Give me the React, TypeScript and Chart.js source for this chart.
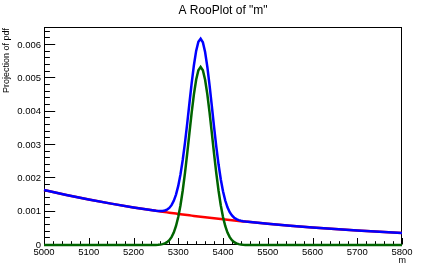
import React, { useEffect, useRef } from "react";
import { Chart, registerables } from "chart.js";

Chart.register(...registerables);

// m values (sampled finer around the peak)
const mValues = [
  5000, 5050, 5100, 5150, 5200, 5250,
  5255, 5260, 5265, 5270, 5275, 5280, 5285, 5290, 5295, 5300,
  5305, 5310, 5315, 5320, 5325, 5330, 5335, 5340, 5345, 5350,
  5355, 5360, 5365, 5370, 5375, 5380, 5385, 5390, 5395, 5400,
  5405, 5410, 5415, 5420, 5425, 5430, 5435, 5440, 5445, 5450,
  5500, 5550, 5600, 5650, 5700, 5750, 5800,
];

// total pdf (blue)
const totalPdf = [
  0.00165, 0.001501, 0.001365, 0.001241, 0.001128, 0.0010294,
  0.0010231, 0.0010202, 0.0010228, 0.0010349, 0.0010618, 0.0011113, 0.0011951, 0.001324, 0.001512, 0.0017731,
  0.0021183, 0.0025506, 0.0030649, 0.0036423, 0.0042528, 0.0048534, 0.0053941, 0.0058238, 0.0060986, 0.0061885,
  0.0060825, 0.0057916, 0.0053457, 0.0047889, 0.0041722, 0.0035455, 0.0029519, 0.0024214, 0.001973, 0.0016116,
  0.0013343, 0.0011301, 0.0009849, 0.0008848, 0.0008191, 0.0007758, 0.0007474, 0.0007285, 0.000715, 0.0007049,
  0.000638, 0.00058, 0.000528, 0.00048, 0.000436, 0.000397, 0.000361,
];

// background component (red)
const bkgPdf = [
  0.00165, 0.001501, 0.001365, 0.001241, 0.001128, 0.0010261,
  0.0010164, 0.0010068, 0.0009973, 0.0009879, 0.0009785, 0.0009693, 0.0009601, 0.000951, 0.000942, 0.0009331,
  0.0009243, 0.0009156, 0.0009069, 0.0008983, 0.0008898, 0.0008814, 0.0008731, 0.0008648, 0.0008566, 0.0008485,
  0.0008405, 0.0008326, 0.0008247, 0.0008169, 0.0008092, 0.0008015, 0.0007939, 0.0007864, 0.000779, 0.0007716,
  0.0007643, 0.0007571, 0.0007499, 0.0007428, 0.0007358, 0.0007288, 0.0007219, 0.0007151, 0.0007083, 0.0007016,
  0.000638, 0.00058, 0.000528, 0.00048, 0.000436, 0.000397, 0.000361,
];

// signal component (green)
const sigPdf = [
  0, 0, 0, 0, 0, 0.0000033,
  0.0000067, 0.0000134, 0.0000255, 0.000047, 0.0000833, 0.000142, 0.000235, 0.000373, 0.00057, 0.00084,
  0.001194, 0.001635, 0.002158, 0.002744, 0.003363, 0.003972, 0.004521, 0.004959, 0.005242, 0.00534,
  0.005242, 0.004959, 0.004521, 0.003972, 0.003363, 0.002744, 0.002158, 0.001635, 0.001194, 0.00084,
  0.00057, 0.000373, 0.000235, 0.000142, 0.0000833, 0.000047, 0.0000255, 0.0000134, 0.0000067, 0.0000033,
  0, 0, 0, 0, 0, 0, 0,
];

const xMin = 5000;
const xMax = 5800;
const yMin = 0;
const yMax = 0.00654;
const xMajorStep = 100;
const xMinorStep = 20;
const yMajorStep = 0.001;
const yMinorStep = 0.0002;

const titleText = 'A RooPlot of "m"';
const yTitleText = "Projection of pdf";
const xTitleText = "m";

const FONT = "'Liberation Sans', Arial, Helvetica, sans-serif";

const rootFramePlugin = {
  id: "rootFrame",
  beforeDatasetsDraw(chart: any) {
    const { ctx, chartArea } = chart;
    const xs = chart.scales.x;
    const ys = chart.scales.y;
    const { left, right, top, bottom } = chartArea;
    ctx.save();
    ctx.strokeStyle = "#000";
    ctx.lineWidth = 1;
    // frame
    ctx.strokeRect(left + 0.5, top + 0.5, right - left - 1, bottom - top - 1);
    // x ticks (inward)
    const nX = Math.round((xMax - xMin) / xMinorStep);
    ctx.beginPath();
    for (let i = 0; i <= nX; i++) {
      const v = xMin + i * xMinorStep;
      const px = Math.round(xs.getPixelForValue(v)) + 0.5;
      const major = Math.abs(v / xMajorStep - Math.round(v / xMajorStep)) < 1e-6;
      const len = major ? 6.5 : 3.3;
      ctx.moveTo(px, bottom - 0.5);
      ctx.lineTo(px, bottom - 0.5 - len);
    }
    // y ticks (inward)
    const nY = Math.floor((yMax - yMin) / yMinorStep + 1e-6);
    for (let i = 0; i <= nY; i++) {
      const v = yMin + i * yMinorStep;
      const py = Math.round(ys.getPixelForValue(v)) - 0.5;
      const major = Math.abs(v / yMajorStep - Math.round(v / yMajorStep)) < 1e-6;
      const len = major ? 10.7 : 5.4;
      ctx.moveTo(left + 0.5, py);
      ctx.lineTo(left + 0.5 + len, py);
    }
    ctx.stroke();
    ctx.restore();
  },
  afterDraw(chart: any) {
    const { ctx, chartArea } = chart;
    const { right, top } = chartArea;
    ctx.save();
    // title
    ctx.fillStyle = "#000";
    ctx.font = `12px ${FONT}`;
    ctx.textAlign = "center";
    ctx.textBaseline = "middle";
    ctx.fillText(titleText, 223, 11);

    // x title
    ctx.font = `9px ${FONT}`;
    ctx.textAlign = "right";
    ctx.fillText(xTitleText, right + 4, 261);

    // y title
    ctx.save();
    ctx.translate(7, top + 1);
    ctx.rotate(-Math.PI / 2);
    ctx.textAlign = "right";
    ctx.textBaseline = "middle";
    ctx.fillText(yTitleText, 0, 0);
    ctx.restore();
    ctx.restore();
  },
};

export default function App() {
  const canvasRef = useRef<HTMLCanvasElement | null>(null);

  useEffect(() => {
    if (!canvasRef.current) return;
    const mk = (arr: number[]) => mValues.map((x, i) => ({ x, y: arr[i] }));
    const chart = new Chart(canvasRef.current, {
      type: "line",
      data: {
        datasets: [
          {
            label: "model",
            data: mk(totalPdf),
            borderColor: "#0000ff",
            borderWidth: 2.5,
            pointRadius: 0,
            tension: 0,
            fill: false,
            clip: 3,
            order: 0,
          },
          {
            label: "signal",
            data: mk(sigPdf),
            borderColor: "#006400",
            borderWidth: 2.5,
            pointRadius: 0,
            tension: 0,
            fill: false,
            clip: 3,
            order: 1,
          },
          {
            label: "background",
            data: mk(bkgPdf),
            borderColor: "#ff0000",
            borderWidth: 2.5,
            pointRadius: 0,
            tension: 0,
            fill: false,
            clip: 3,
            order: 2,
          },
        ],
      },
      options: {
        animation: false,
        responsive: false,
        devicePixelRatio: 1,
        layout: { padding: { left: 0, top: 27, right: 44, bottom: 0 } },
        plugins: {
          legend: { display: false },
          tooltip: { enabled: false },
          title: { display: false },
        },
        scales: {
          x: {
            type: "linear",
            min: xMin,
            max: xMax,
            grid: { display: false, drawTicks: false },
            border: { display: false },
            afterFit: (scale: any) => {
              scale.height = 27;
            },
            ticks: {
              stepSize: xMajorStep,
              autoSkip: false,
              maxRotation: 0,
              padding: 2,
              color: "#000",
              font: { family: FONT, size: 9.5 },
              callback: (v: any) => String(v),
            },
          },
          y: {
            type: "linear",
            min: yMin,
            max: yMax,
            grid: { display: false, drawTicks: false },
            border: { display: false },
            afterFit: (scale: any) => {
              scale.width = 44;
            },
            ticks: {
              stepSize: yMajorStep,
              includeBounds: false,
              autoSkip: false,
              padding: 3,
              color: "#000",
              font: { family: FONT, size: 9.5 },
              callback: (v: any) => (Math.abs(v) < 1e-12 ? "0" : Number(v).toFixed(3)),
            },
          },
        },
      },
      plugins: [rootFramePlugin],
    });
    return () => chart.destroy();
  }, []);

  return (
    <div style={{ position: "absolute", left: 0, top: 0, width: 446, height: 272, background: "#fff" }}>
      <canvas ref={canvasRef} width={446} height={272} style={{ display: "block" }} />
    </div>
  );
}
